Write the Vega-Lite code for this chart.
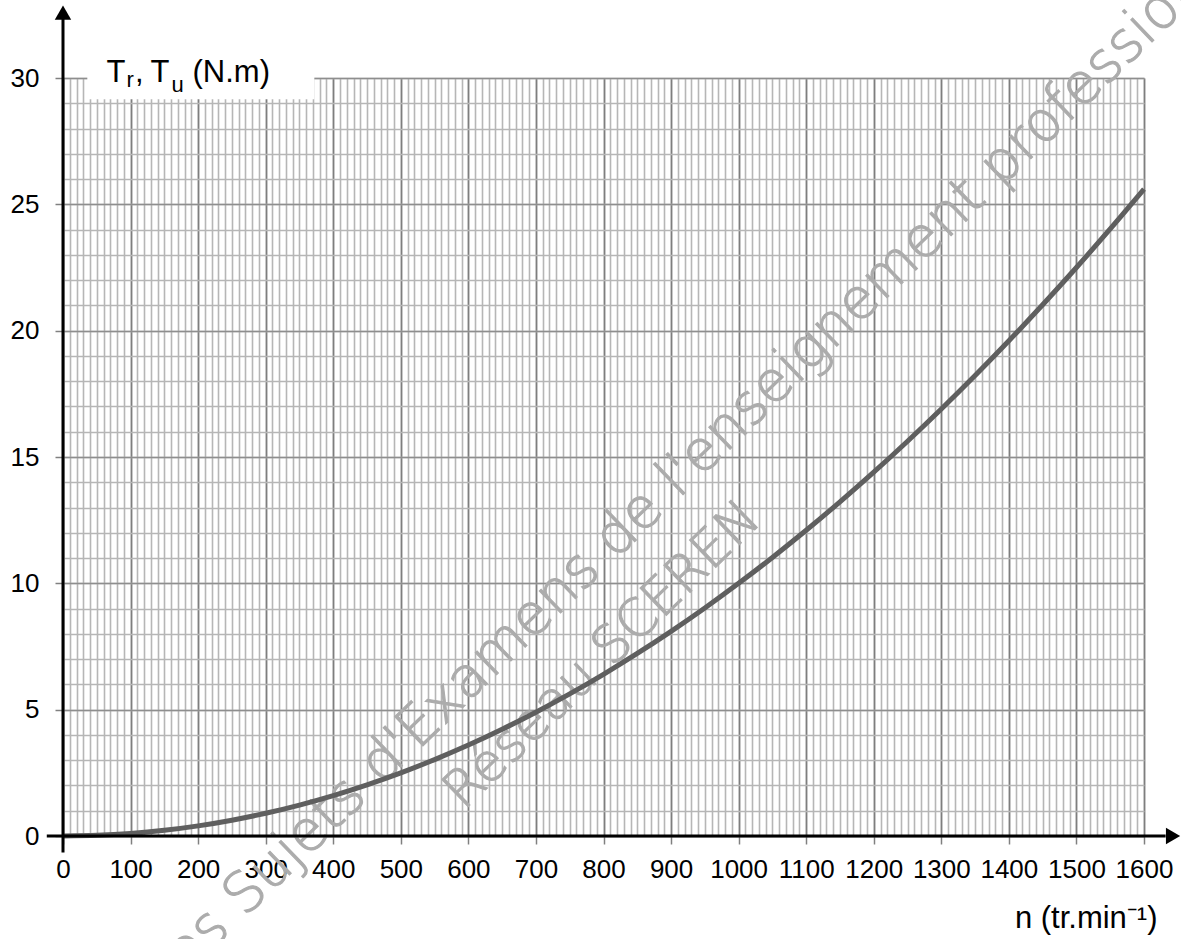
{
  "$schema": "https://vega.github.io/schema/vega-lite/v6.json",
  "width": 1081,
  "height": 758,
  "autosize": {"type": "none"},
  "padding": {"left": 63, "top": 78, "right": 37, "bottom": 103},
  "background": "white",
  "config": {"view": {"stroke": null}, "font": "Liberation Sans"},
  "datasets": {
    "curve": [
      {"n": 0, "T": 0}, {"n": 50, "T": 0.025}, {"n": 100, "T": 0.1}, {"n": 150, "T": 0.225},
      {"n": 200, "T": 0.4}, {"n": 250, "T": 0.625}, {"n": 300, "T": 0.9}, {"n": 350, "T": 1.225},
      {"n": 400, "T": 1.6}, {"n": 450, "T": 2.025}, {"n": 500, "T": 2.5}, {"n": 550, "T": 3.025},
      {"n": 600, "T": 3.6}, {"n": 650, "T": 4.225}, {"n": 700, "T": 4.9}, {"n": 750, "T": 5.625},
      {"n": 800, "T": 6.4}, {"n": 850, "T": 7.225}, {"n": 900, "T": 8.1}, {"n": 950, "T": 9.025},
      {"n": 1000, "T": 10}, {"n": 1050, "T": 11.025}, {"n": 1100, "T": 12.1}, {"n": 1150, "T": 13.225},
      {"n": 1200, "T": 14.4}, {"n": 1250, "T": 15.625}, {"n": 1300, "T": 16.9}, {"n": 1350, "T": 18.225},
      {"n": 1400, "T": 19.6}, {"n": 1450, "T": 21.025}, {"n": 1500, "T": 22.5}, {"n": 1550, "T": 24.025},
      {"n": 1600, "T": 25.6}
    ]
  },
  "resolve": {"axis": {"x": "independent", "y": "independent"}},
  "layer": [
    {
      "data": {"values": [{}]},
      "mark": {"type": "rect", "color": "white"},
      "encoding": {
        "x": {
          "datum": 36, "type": "quantitative",
          "scale": {"domain": [0, 1600], "nice": false, "zero": false},
          "axis": {"orient": "bottom", "tickCount": 160, "grid": true, "gridColor": "#b6b6b6", "gridWidth": 1.6,
                   "labels": false, "ticks": false, "domain": false, "title": null}
        },
        "x2": {"datum": 372},
        "y": {
          "datum": 29.16, "type": "quantitative",
          "scale": {"domain": [0, 30], "nice": false, "zero": false},
          "axis": {"orient": "left", "tickCount": 30, "grid": true, "gridColor": "#b6b6b6", "gridWidth": 1.6,
                   "labels": false, "ticks": false, "domain": false, "title": null}
        },
        "y2": {"datum": 30.4}
      }
    },
    {
      "data": {"values": [{"w": "Banque des Sujets d'Examens de l'enseignement professionnel"}]},
      "mark": {"type": "text", "font": "DejaVu Sans", "fontWeight": 200, "fontSize": 56, "fill": "#acacac",
               "stroke": "#acacac", "strokeWidth": 1.1, "angle": -44, "align": "center", "baseline": "middle"},
      "encoding": {
        "x": {"datum": 826, "axis": null},
        "y": {"datum": 12.07, "axis": null},
        "text": {"field": "w"}
      }
    },
    {
      "data": {"values": [{"w": "Réseau SCEREN"}]},
      "mark": {"type": "text", "font": "DejaVu Sans", "fontWeight": 200, "fontSize": 52, "fill": "#acacac",
               "stroke": "#acacac", "strokeWidth": 1.1, "angle": -44, "align": "center", "baseline": "middle"},
      "encoding": {
        "x": {"datum": 798, "axis": null},
        "y": {"datum": 7.16, "axis": null},
        "text": {"field": "w"}
      }
    },
    {
      "data": {"name": "curve"},
      "mark": {"type": "line", "color": "#5f5f5f", "strokeWidth": 5, "interpolate": "monotone"},
      "encoding": {
        "x": {
          "field": "n", "type": "quantitative",
          "axis": {"orient": "bottom", "tickCount": 16, "format": "d", "grid": true, "gridColor": "#7e7e7e", "gridWidth": 1.6,
                   "domain": false, "ticks": true, "tickColor": "#808080", "tickSize": 8, "tickWidth": 1.5,
                   "labelFontSize": 26, "labelColor": "black", "labelPadding": 12, "labelFlush": false,
                   "labelOverlap": false,
                   "title": "n (tr.min⁻¹)", "titleFontSize": 31, "titleFontWeight": "normal", "titleColor": "black",
                   "titleAlign": "right", "titleAnchor": "end", "titleX": 1094, "titleY": 91,
                   "titleBaseline": "alphabetic"}
        },
        "y": {
          "field": "T", "type": "quantitative",
          "axis": {"orient": "left", "tickCount": 6, "format": "d", "grid": true, "gridColor": "#8e8e8e", "gridWidth": 1.6,
                   "domain": false, "ticks": true, "tickColor": "#808080", "tickSize": 8, "tickWidth": 1.5,
                   "labelFontSize": 26, "labelColor": "black", "labelPadding": 16, "labelFlush": false,
                   "labelOverlap": false, "title": null}
        }
      }
    },
    {
      "data": {"values": [{}]},
      "mark": {"type": "rule", "color": "black", "strokeWidth": 3},
      "encoding": {
        "x": {"datum": -24, "axis": null},
        "x2": {"datum": 1632},
        "y": {"datum": 0, "axis": null}
      }
    },
    {
      "data": {"values": [{}]},
      "mark": {"type": "rule", "color": "black", "strokeWidth": 3},
      "encoding": {
        "x": {"datum": 0, "axis": null},
        "y": {"datum": -0.65, "axis": null},
        "y2": {"datum": 32.4}
      }
    },
    {
      "data": {"values": [{}]},
      "mark": {"type": "point", "shape": "triangle-up", "filled": true, "color": "black", "size": 270, "opacity": 1},
      "encoding": {
        "x": {"datum": 0, "axis": null},
        "y": {"datum": 32.59, "axis": null}
      }
    },
    {
      "data": {"values": [{}]},
      "mark": {"type": "point", "shape": "triangle-right", "filled": true, "color": "black", "size": 270, "opacity": 1},
      "encoding": {
        "x": {"datum": 1643, "axis": null},
        "y": {"datum": 0, "axis": null}
      }
    },
    {
      "data": {"values": [{"t": "T"}]},
      "mark": {"type": "text", "align": "left", "baseline": "alphabetic", "fontSize": 31, "color": "black"},
      "encoding": {"x": {"datum": 64.4, "axis": null}, "y": {"datum": 29.83, "axis": null}, "text": {"field": "t"}}
    },
    {
      "data": {"values": [{"t": "r"}]},
      "mark": {"type": "text", "align": "left", "baseline": "alphabetic", "fontSize": 22, "color": "black", "dx": 20, "dy": 4.5},
      "encoding": {"x": {"datum": 64.4, "axis": null}, "y": {"datum": 29.83, "axis": null}, "text": {"field": "t"}}
    },
    {
      "data": {"values": [{"t": ","}]},
      "mark": {"type": "text", "align": "left", "baseline": "alphabetic", "fontSize": 31, "color": "black", "dx": 28.5},
      "encoding": {"x": {"datum": 64.4, "axis": null}, "y": {"datum": 29.83, "axis": null}, "text": {"field": "t"}}
    },
    {
      "data": {"values": [{"t": "T"}]},
      "mark": {"type": "text", "align": "left", "baseline": "alphabetic", "fontSize": 31, "color": "black", "dx": 44}
      ,
      "encoding": {"x": {"datum": 64.4, "axis": null}, "y": {"datum": 29.83, "axis": null}, "text": {"field": "t"}}
    },
    {
      "data": {"values": [{"t": "u"}]},
      "mark": {"type": "text", "align": "left", "baseline": "alphabetic", "fontSize": 22, "color": "black", "dx": 65, "dy": 10},
      "encoding": {"x": {"datum": 64.4, "axis": null}, "y": {"datum": 29.83, "axis": null}, "text": {"field": "t"}}
    },
    {
      "data": {"values": [{"t": "(N.m)"}]},
      "mark": {"type": "text", "align": "left", "baseline": "alphabetic", "fontSize": 31, "color": "black", "dx": 86}
      ,
      "encoding": {"x": {"datum": 64.4, "axis": null}, "y": {"datum": 29.83, "axis": null}, "text": {"field": "t"}}
    }
  ]
}
